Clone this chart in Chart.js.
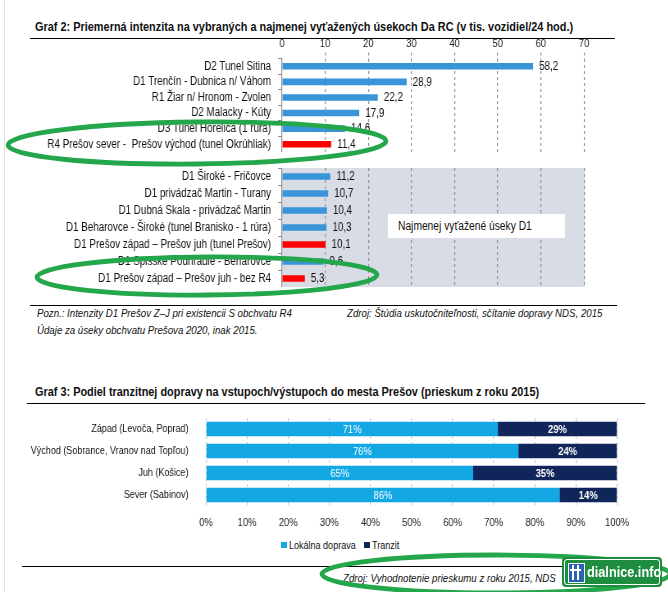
<!DOCTYPE html>
<html>
<head>
<meta charset="utf-8">
<script src="https://cdn.jsdelivr.net/npm/chart.js@4.4.0/dist/chart.umd.min.js"></script>
<style>
  body { margin: 0; background: #fff; }
  #page { position: relative; width: 668px; height: 592px; overflow: hidden; background: #fff;
          font-family: "Liberation Sans", Arial, sans-serif; color: #111; }
  .abs { position: absolute; white-space: nowrap; }
  /* the source uses a narrow face, so text is squeezed horizontally */
  .cond { transform: scaleX(0.82); transform-origin: 0 0; }
  .title { font-weight: bold; font-size: 13.3px; line-height: 16px; }
  .rule { position: absolute; height: 1px; background: #000; }
  .note { font-style: italic; font-size: 11.8px; line-height: 14px; }
  .legend { font-size: 11px; line-height: 12px; }
  .sq { position: absolute; width: 6px; height: 6px; }
  canvas { position: absolute; left: 0; transform: scaleX(0.82); transform-origin: 0 0; }
</style>
</head>
<body>
<div id="page">
  <div class="abs" style="left:4px;top:0;width:1px;height:592px;background:#e2e2e2"></div>

  <div class="abs title cond" style="left:35px;top:19px;font-size:13px;transform:scaleX(0.84)">Graf 2: Priemerná intenzita na vybraných a najmenej vyťažených úsekoch Da RC (v tis. vozidiel/24 hod.)</div>
  <div class="rule" style="left:30px;top:38px;width:585px"></div>

  <canvas id="topChart" width="815" height="122" style="top:30px"></canvas>
  <canvas id="d1Chart" width="815" height="119" style="top:168px"></canvas>

  <div class="abs" style="left:388px;top:214px;width:177px;height:24px;background:#fff"></div>
  <div class="abs cond" style="left:398px;top:214px;font-size:12.5px;line-height:24px">Najmenej vyťažené úseky D1</div>

  <div class="rule" style="left:30px;top:305px;width:587px"></div>
  <div class="abs note cond" style="left:37px;top:306px">Pozn.: Intenzity D1 Prešov Z–J pri existencii S obchvatu R4</div>
  <div class="abs note cond" style="left:37px;top:323px">Údaje za úseky obchvatu Prešova 2020, inak 2015.</div>
  <div class="abs note cond" style="left:347px;top:306px">Zdroj: Štúdia uskutočniteľnosti, sčítanie dopravy NDS, 2015</div>

  <div class="abs title cond" style="left:35px;top:384px">Graf 3: Podiel tranzitnej dopravy na vstupoch/výstupoch do mesta Prešov (prieskum z roku 2015)</div>
  <div class="rule" style="left:27px;top:403px;width:618px"></div>

  <canvas id="shareChart" width="815" height="122" style="top:410px"></canvas>

  <div id="legend"></div>

  <div class="rule" style="left:22px;top:566px;width:540px"></div>
  <div class="abs note cond" style="left:343px;top:571px">Zdroj: Vyhodnotenie prieskumu z roku 2015, NDS</div>

  <svg class="abs" style="left:0;top:0" width="668" height="592">
    <g fill="none" stroke="#24a64a" stroke-width="4.8">
      <ellipse cx="197" cy="143" rx="189" ry="21" transform="rotate(-0.6 197 143)"/>
      <ellipse cx="207" cy="276" rx="170" ry="19" transform="rotate(-0.4 207 276)"/>
      <ellipse cx="496" cy="574" rx="174" ry="19"/>
    </g>
  </svg>

  <div class="abs" style="left:562px;top:557px;width:100px;height:30px;background:#1f8d3f;border-radius:4px">
    <div class="abs" style="left:2px;top:2px;width:94px;height:24px;border:1px solid #fff;border-radius:3px"></div>
    <div class="abs" style="left:6px;top:6px;width:15px;height:18px;background:#2c62b4;border:1px solid #fff"></div>
    <div class="abs" style="left:10px;top:8px;width:2px;height:15px;background:#fff"></div>
    <div class="abs" style="left:15px;top:8px;width:2px;height:15px;background:#fff"></div>
    <div class="abs" style="left:8px;top:12px;width:11px;height:2px;background:#fff"></div>
    <div class="abs cond" style="left:25px;top:4px;font-size:15.5px;line-height:22px;color:#fff;font-weight:bold">dialnice.info</div>
  </div>
</div>

<script>
// Graf 2 - upper block (selected sections)
const topLabels = [
  'D2 Tunel Sitina',
  'D1 Trenčín - Dubnica n/ Váhom',
  'R1 Žiar n/ Hronom - Zvolen',
  'D2 Malacky - Kúty',
  'D3 Tunel Horelica (1 rúra)',
  'R4 Prešov sever -  Prešov východ (tunel Okrúhliak)'
];
const topValues = [58.2, 28.9, 22.2, 17.9, 14.6, 11.4];

// Graf 2 - lower block (least loaded D1 sections)
const d1Labels = [
  'D1 Široké - Fričovce',
  'D1 privádzač Martin - Turany',
  'D1 Dubná Skala - privádzač Martin',
  'D1 Beharovce - Široké (tunel Branisko - 1 rúra)',
  'D1 Prešov západ – Prešov juh (tunel Prešov)',
  'D1 Spišské Podhradie - Beharovce',
  'D1 Prešov západ – Prešov juh - bez R4'
];
const d1Values = [11.2, 10.7, 10.4, 10.3, 10.1, 9.6, 5.3];

// sections around Prešov drawn in red
const presovSections = [
  'R4 Prešov sever -  Prešov východ (tunel Okrúhliak)',
  'D1 Prešov západ – Prešov juh (tunel Prešov)',
  'D1 Prešov západ – Prešov juh - bez R4'
];
const intensityMax = 70;
const intensityStep = 10;

// Graf 3
const entryLabels = [
  'Západ (Levoča, Poprad)',
  'Východ (Sobrance, Vranov nad Topľou)',
  'Juh (Košice)',
  'Sever (Sabinov)'
];
const localShare = [71, 76, 65, 86];
const transitShare = [29, 24, 35, 14];
const seriesNames = ['Lokálna doprava', 'Tranzit'];

const S = 0.82;          // horizontal squeeze applied to the canvases
const W = 815;           // canvas width before squeeze
const FONT = '"Liberation Sans", Arial, sans-serif';
const BLUE = '#3a95d8';
const RED = '#ff0000';
const LIGHT = '#13a8e4';
const NAVY = '#10265b';

Chart.defaults.font.family = FONT;
Chart.defaults.animation = false;

const fmt = v => v.toFixed(1).replace('.', ',');

// fixed axis width, and no extra room above/below for the category labels
const fixWidth = w => s => { s.width = w; s.paddingTop = 0; s.paddingBottom = 0; };

const valueLabels = {
  id: 'valueLabels',
  afterDatasetsDraw(chart) {
    const ctx = chart.ctx;
    const ds = chart.data.datasets[0];
    ctx.save();
    ctx.font = '12px ' + FONT;
    ctx.fillStyle = '#111';
    ctx.textBaseline = 'middle';
    chart.getDatasetMeta(0).data.forEach((bar, i) => {
      ctx.fillText(fmt(ds.data[i]), bar.x + 6 / S, bar.y + 0.5);
    });
    ctx.restore();
  }
};

const greyArea = {
  id: 'greyArea',
  beforeDraw(chart) {
    const a = chart.chartArea;
    chart.ctx.save();
    chart.ctx.fillStyle = '#d7dce5';
    chart.ctx.fillRect(a.left, a.top, a.right - a.left + 1, a.bottom - a.top);
    chart.ctx.restore();
  }
};

function intensityChart(id, labels, values, showTicks, barPct, extraPlugins) {
  return new Chart(document.getElementById(id), {
    type: 'bar',
    data: {
      labels: labels,
      datasets: [{
        data: values,
        backgroundColor: labels.map(l => presovSections.includes(l) ? RED : BLUE),
        barPercentage: barPct,
        categoryPercentage: 1
      }]
    },
    options: {
      indexAxis: 'y',
      responsive: false,
      devicePixelRatio: 1,
      layout: { padding: { left: 0, right: W - 584 / S, top: 0, bottom: 0 } },
      plugins: { legend: { display: false }, tooltip: { enabled: false } },
      scales: {
        x: {
          position: 'top',
          min: 0,
          max: intensityMax,
          ticks: { display: showTicks, stepSize: intensityStep, padding: 2, color: '#222', font: { size: 11.5 } },
          grid: {
            color: c => c.tick && c.tick.value === 0 ? 'rgba(0,0,0,0)' : '#8e8e8e',
            lineWidth: 1.2,
            drawTicks: showTicks,
            tickLength: 6,
            tickBorderDash: [3, 3]
          },
          border: { display: false, dash: [3, 3] },
          afterFit: s => { s.height = showTicks ? 28.5 : 0; }
        },
        y: {
          ticks: { color: '#111', font: { size: 12 }, padding: 7 / S, autoSkip: false },
          grid: { drawOnChartArea: false, tickLength: 4 / S, color: '#8a8a8a', offset: true },
          border: { display: true, color: '#8a8a8a', width: 1.2 },
          afterFit: fixWidth(282 / S)
        }
      }
    },
    plugins: [valueLabels].concat(extraPlugins)
  });
}

intensityChart('topChart', topLabels, topValues, true, 0.42, []);
intensityChart('d1Chart', d1Labels, d1Values, false, 0.38, [greyArea]);

const shareLabels = {
  id: 'shareLabels',
  afterDatasetsDraw(chart) {
    const ctx = chart.ctx;
    ctx.save();
    ctx.fillStyle = '#fff';
    ctx.textAlign = 'center';
    ctx.textBaseline = 'middle';
    chart.data.datasets.forEach((ds, di) => {
      ctx.font = (di === 1 ? 'bold ' : '') + '11.5px ' + FONT;
      chart.getDatasetMeta(di).data.forEach((bar, i) => {
        ctx.fillText(ds.data[i] + '%', (bar.x + bar.base) / 2, bar.y + 0.5);
      });
    });
    ctx.restore();
  }
};

new Chart(document.getElementById('shareChart'), {
  type: 'bar',
  data: {
    labels: entryLabels,
    datasets: [
      { label: seriesNames[0], data: localShare, backgroundColor: LIGHT, barPercentage: 0.66, categoryPercentage: 1 },
      { label: seriesNames[1], data: transitShare, backgroundColor: NAVY, barPercentage: 0.66, categoryPercentage: 1 }
    ]
  },
  options: {
    indexAxis: 'y',
    responsive: false,
    devicePixelRatio: 1,
    layout: { padding: { left: 0, right: W - 617 / S, top: 8, bottom: 0 } },
    plugins: { legend: { display: false }, tooltip: { enabled: false } },
    scales: {
      x: {
        stacked: true,
        min: 0,
        max: 100,
        ticks: { stepSize: 10, padding: 10, color: '#222', font: { size: 11.5 }, callback: v => v + '%' },
        grid: { color: '#c9c9c9', lineWidth: 1.2, drawTicks: false },
        border: { display: false, dash: [3, 3] },
        afterFit: s => { s.height = 26; }
      },
      y: {
        stacked: true,
        ticks: { color: '#111', font: { size: 11 }, padding: 11 / S },
        grid: { display: false },
        border: { display: false },
        afterFit: fixWidth(206 / S)
      }
    }
  },
  plugins: [shareLabels]
});

// legend for Graf 3
const legend = document.getElementById('legend');
const legendPos = [281, 364];
[LIGHT, NAVY].forEach((col, i) => {
  const sq = document.createElement('div');
  sq.className = 'sq';
  sq.style.left = legendPos[i] + 'px';
  sq.style.top = '542px';
  sq.style.background = col;
  legend.appendChild(sq);
  const t = document.createElement('div');
  t.className = 'abs legend cond';
  t.style.left = (legendPos[i] + 8) + 'px';
  t.style.top = '539px';
  t.textContent = seriesNames[i];
  legend.appendChild(t);
});
</script>
</body>
</html>
